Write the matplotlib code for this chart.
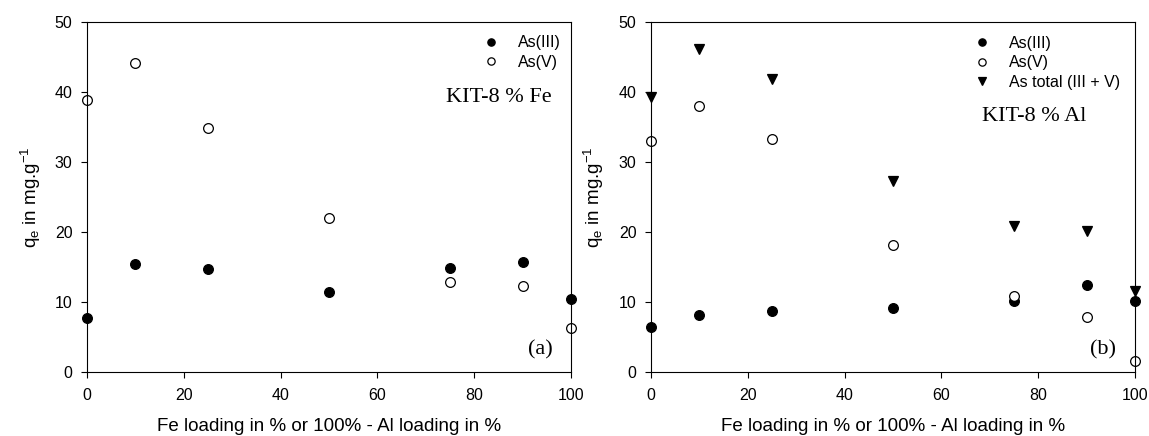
import matplotlib.pyplot as plt
import numpy as np

plt.rcParams['font.family'] = ['Liberation Sans', 'DejaVu Sans']
plt.rcParams['mathtext.fontset'] = 'custom'
plt.rcParams['mathtext.rm'] = 'Liberation Sans'
plt.rcParams['mathtext.it'] = 'Liberation Sans:italic'

# loading (% Fe) on x axis
loading = [0, 10, 25, 50, 75, 90, 100]

# panel (a): KIT-8 % Fe
fe_as3 = [7.7, 15.5, 14.7, 11.4, 14.8, 15.7, 10.5]
fe_as5 = [38.8, 44.1, 34.8, 22.0, 12.9, 12.3, 6.3]

# panel (b): KIT-8 % Al
al_as3 = [6.4, 8.2, 8.7, 9.2, 10.1, 12.4, 10.2]
al_as5 = [33.0, 38.0, 33.3, 18.1, 10.8, 7.8, 1.6]
al_total = [39.3, 46.2, 41.9, 27.3, 20.8, 20.2, 11.6]

xlabel = 'Fe loading in % or 100% - Al loading in %'
ylabel = r'q$_\mathrm{e}$ in mg.g$^{-1}$'

W, H = 1149, 436
fig = plt.figure(figsize=(W / 100, H / 100), dpi=100)
ax1 = fig.add_axes([87 / W, 64 / H, 484 / W, 350 / H])
ax2 = fig.add_axes([651 / W, 64 / H, 484 / W, 350 / H])


def style_axes(ax, ylab_x):
    ax.set_xlim(0, 100)
    ax.set_ylim(0, 50)
    ax.set_xticks(np.arange(0, 101, 20))
    ax.set_yticks(np.arange(0, 51, 10))
    ax.tick_params(direction='out', length=4, width=0.8, labelsize=11.5,
                   top=False, right=False)
    ax.tick_params(axis='x', pad=7.5)
    ax.tick_params(axis='y', pad=6.5)
    for s in ax.spines.values():
        s.set_linewidth(0.8)
    ax.set_xlabel(xlabel, fontsize=13.5, va='top')
    ax.xaxis.set_label_coords(0.5, -0.132)
    fig.text(ylab_x / W, 0.547, ylabel, rotation=90, ha='center', va='center',
             fontsize=13.5)


mk = dict(linestyle='none', markersize=7, markeredgewidth=0.9, clip_on=False)
leg = dict(frameon=False, fontsize=11.5, handlelength=1.0, handletextpad=1.2,
           labelspacing=0.28, markerscale=0.75, borderpad=0, borderaxespad=0,
           loc='upper left')

ax1.plot(loading, fe_as3, 'o', color='black', label='As(III)', **mk)
ax1.plot(loading, fe_as5, 'o', markerfacecolor='white', markeredgecolor='black',
         label='As(V)', **mk)
style_axes(ax1, 31)
ax1.legend(bbox_to_anchor=(0.818, 0.962), **leg)
ax1.text(0.961, 0.783, 'KIT-8 % Fe', transform=ax1.transAxes, ha='right', va='center',
         family='Liberation Serif', fontsize=16)
ax1.text(0.963, 0.063, '(a)', transform=ax1.transAxes, ha='right', va='center',
         family='Liberation Serif', fontsize=16)

ax2.plot(loading, al_as3, 'o', color='black', label='As(III)', **mk)
ax2.plot(loading, al_as5, 'o', markerfacecolor='white', markeredgecolor='black',
         label='As(V)', **mk)
ax2.plot(loading, al_total, 'v', color='black', label='As total (III + V)', **mk)
style_axes(ax2, 594)
ax2.legend(bbox_to_anchor=(0.667, 0.96), **leg)
ax2.text(0.684, 0.729, 'KIT-8 % Al', transform=ax2.transAxes, ha='left', va='center',
         family='Liberation Serif', fontsize=16)
ax2.text(0.961, 0.063, '(b)', transform=ax2.transAxes, ha='right', va='center',
         family='Liberation Serif', fontsize=16)

fig.savefig('out.png', dpi=100)
plt.close(fig)
